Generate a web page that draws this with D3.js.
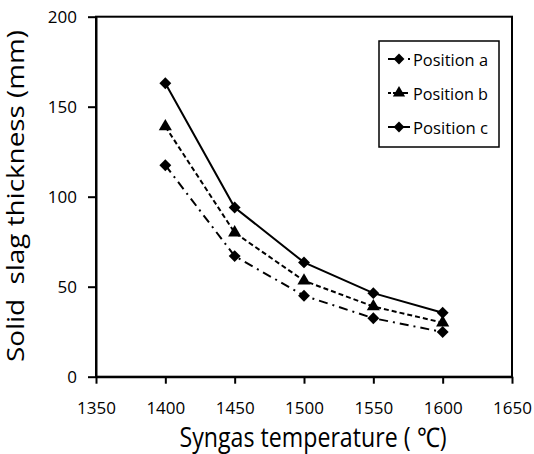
<!DOCTYPE html>
<html><head><meta charset="utf-8">
<script src="https://cdn.jsdelivr.net/npm/d3@7"></script>
<style>body{margin:0;background:#fff}svg{display:block}</style>
</head><body>
<svg id="c" width="534" height="454"></svg>
<script>
const temps = [1400, 1450, 1500, 1550, 1600];
const posA = [117.5, 67, 45, 32.5, 24.8];
const posB = [139, 80, 53.3, 39, 30];
const posC = [163, 94, 63.5, 46.4, 35.5];
const xTicks = [1350, 1400, 1450, 1500, 1550, 1600, 1650];
const yTicks = [0, 50, 100, 150, 200];
const seriesNames = ["Position a", "Position b", "Position c"];

const svg = d3.select("#c");
const font = "'Open Sans', sans-serif";
const L = 96, R = 512, T = 16.7, B = 376.7;
const x = d3.scaleLinear().domain([1350, 1650]).range([L, R]);
const y = d3.scaleLinear().domain([0, 200]).range([B, T]);

svg.append("rect").attr("x", L).attr("y", T).attr("width", R - L).attr("height", B - T)
  .attr("fill", "none").attr("stroke", "#000").attr("stroke-width", 2);

const xa = svg.append("g").attr("transform", `translate(0,${B})`)
  .call(d3.axisBottom(x).tickValues(xTicks).tickSize(7).tickSizeOuter(0).tickPadding(18).tickFormat(d3.format("d")));
const ya = svg.append("g").attr("transform", `translate(${L},0)`)
  .call(d3.axisLeft(y).tickValues(yTicks).tickSize(8).tickSizeOuter(0).tickPadding(11));
[xa, ya].forEach(a => {
  a.select(".domain").attr("stroke-width", 2);
  a.selectAll(".tick line").attr("stroke-width", 2);
  a.selectAll("text").attr("font-family", font).attr("font-size", 17).attr("fill", "#000");
});

const series = [
  {name: seriesNames[0], vals: posA, dash: "9,5,2,5", sym: d3.symbolDiamond2},
  {name: seriesNames[1], vals: posB, dash: "5,3", sym: d3.symbolTriangle},
  {name: seriesNames[2], vals: posC, dash: null, sym: d3.symbolDiamond2}
];
const line = d3.line().x((d, i) => x(temps[i])).y(d => y(d));
series.forEach(s => {
  svg.append("path").datum(s.vals).attr("d", line).attr("fill", "none")
    .attr("stroke", "#000").attr("stroke-width", 2)
    .attr("stroke-dasharray", s.dash);
  svg.selectAll(null).data(s.vals).enter().append("path")
    .attr("transform", (d, i) => `translate(${x(temps[i])},${y(d)})`)
    .attr("d", d3.symbol().type(s.sym).size(s.sym === d3.symbolTriangle ? 75 : 90))
    .attr("fill", "#000");
});

// legend
svg.append("rect").attr("x", 379).attr("y", 41).attr("width", 120).attr("height", 106)
  .attr("fill", "#fff").attr("stroke", "#000").attr("stroke-width", 1.5);
series.forEach((s, i) => {
  const ly = 59 + i * 34;
  svg.append("line").attr("x1", 388).attr("x2", 410).attr("y1", ly).attr("y2", ly)
    .attr("stroke", "#000").attr("stroke-width", 2)
    .attr("stroke-dasharray", i === 0 ? "8,12,2,3" : i === 1 ? "3,2,15,2" : null);
  svg.append("path").attr("transform", `translate(399,${ly})`)
    .attr("d", d3.symbol().type(s.sym).size(s.sym === d3.symbolTriangle ? 65 : 75)).attr("fill", "#000");
  svg.append("text").attr("x", 413).attr("y", ly + 7).text(s.name)
    .attr("font-family", font).attr("font-size", 17).attr("fill", "#000")
    .attr("textLength", 75).attr("lengthAdjust", "spacingAndGlyphs");
});

svg.append("text").attr("transform", "translate(24,196) rotate(-90)")
  .attr("text-anchor", "middle").attr("font-family", font).attr("font-size", 23)
  .attr("fill", "#000").attr("xml:space", "preserve")
  .attr("textLength", 332).attr("lengthAdjust", "spacingAndGlyphs")
  .text("Solid  slag thickness (mm)");
svg.append("text").attr("x", 313).attr("y", 447)
  .attr("text-anchor", "middle").attr("font-family", font).attr("font-size", 27)
  .attr("fill", "#000").attr("xml:space", "preserve")
  .attr("textLength", 267).attr("lengthAdjust", "spacingAndGlyphs")
  .text("Syngas temperature ( ℃)");
</script>
</body></html>
